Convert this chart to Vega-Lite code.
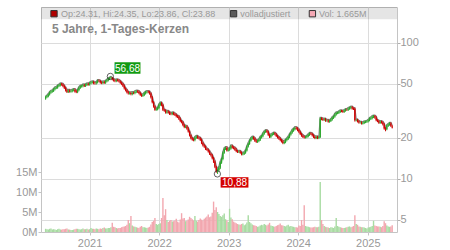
{
"$schema": "https://vega.github.io/schema/vega-lite/v6.json",
"width": 356, "height": 225,
"autosize": {"type": "none"},
"padding": {"left": 41, "top": 7, "right": 53, "bottom": 18},
"background": "white",
"config": {"view": {"stroke": "#c4c4c4"}, "font": "Liberation Sans"},
"datasets": {
"px": [
{"d":"2020-05-15","o":39.0,"h":40.8,"l":38.2,"c":40.0,"v":0.8},
{"d":"2020-05-22","o":40.0,"h":41.4,"l":39.2,"c":40.6,"v":0.7},
{"d":"2020-05-29","o":40.6,"h":42.6,"l":39.8,"c":41.8,"v":0.6},
{"d":"2020-06-05","o":41.8,"h":44.0,"l":41.0,"c":43.2,"v":0.8},
{"d":"2020-06-12","o":43.2,"h":44.8,"l":42.3,"c":43.9,"v":0.9},
{"d":"2020-06-19","o":43.9,"h":45.3,"l":43.0,"c":44.4,"v":0.6},
{"d":"2020-06-26","o":44.4,"h":46.5,"l":43.5,"c":45.6,"v":0.7},
{"d":"2020-07-03","o":45.6,"h":47.5,"l":44.7,"c":46.6,"v":0.6},
{"d":"2020-07-10","o":46.6,"h":47.9,"l":45.7,"c":47.0,"v":0.5},
{"d":"2020-07-17","o":47.0,"h":49.2,"l":46.0,"c":48.3,"v":0.7},
{"d":"2020-07-24","o":48.3,"h":49.8,"l":47.3,"c":48.8,"v":0.8},
{"d":"2020-07-31","o":48.8,"h":50.8,"l":47.8,"c":49.8,"v":0.6},
{"d":"2020-08-07","o":49.8,"h":50.8,"l":48.4,"c":49.4,"v":0.6},
{"d":"2020-08-14","o":49.4,"h":50.4,"l":47.2,"c":48.2,"v":0.7},
{"d":"2020-08-21","o":48.2,"h":49.2,"l":45.8,"c":46.7,"v":0.7},
{"d":"2020-08-28","o":46.7,"h":47.6,"l":43.9,"c":44.8,"v":0.8},
{"d":"2020-09-04","o":44.8,"h":45.7,"l":42.8,"c":43.7,"v":0.9},
{"d":"2020-09-11","o":43.7,"h":45.5,"l":42.8,"c":44.6,"v":0.6},
{"d":"2020-09-18","o":44.6,"h":45.5,"l":43.1,"c":44.0,"v":0.6},
{"d":"2020-09-25","o":44.0,"h":45.1,"l":43.1,"c":44.2,"v":0.5},
{"d":"2020-10-02","o":44.2,"h":45.8,"l":43.3,"c":44.9,"v":0.5},
{"d":"2020-10-09","o":44.9,"h":46.2,"l":44.0,"c":45.3,"v":0.6},
{"d":"2020-10-16","o":45.3,"h":46.2,"l":43.1,"c":44.0,"v":0.7},
{"d":"2020-10-23","o":44.0,"h":44.9,"l":42.7,"c":43.6,"v":0.8},
{"d":"2020-10-30","o":43.6,"h":45.9,"l":42.7,"c":45.0,"v":0.8},
{"d":"2020-11-06","o":45.0,"h":47.7,"l":44.1,"c":46.8,"v":0.7},
{"d":"2020-11-13","o":46.8,"h":48.9,"l":45.9,"c":47.9,"v":0.6},
{"d":"2020-11-20","o":47.9,"h":49.1,"l":46.9,"c":48.1,"v":0.7},
{"d":"2020-11-27","o":48.1,"h":49.9,"l":47.1,"c":48.9,"v":0.9},
{"d":"2020-12-04","o":48.9,"h":49.9,"l":47.4,"c":48.4,"v":0.7},
{"d":"2020-12-11","o":48.4,"h":50.2,"l":47.4,"c":49.2,"v":0.7},
{"d":"2020-12-18","o":49.2,"h":50.8,"l":48.2,"c":49.8,"v":0.8},
{"d":"2020-12-25","o":49.8,"h":50.8,"l":48.5,"c":49.5,"v":0.6},
{"d":"2021-01-01","o":49.5,"h":51.5,"l":48.5,"c":50.5,"v":0.7},
{"d":"2021-01-08","o":50.5,"h":52.2,"l":49.5,"c":51.2,"v":1.0},
{"d":"2021-01-15","o":51.2,"h":52.6,"l":50.2,"c":51.6,"v":0.8},
{"d":"2021-01-22","o":51.6,"h":52.6,"l":49.6,"c":50.6,"v":0.8},
{"d":"2021-01-29","o":50.6,"h":51.6,"l":49.4,"c":50.4,"v":0.7},
{"d":"2021-02-05","o":50.4,"h":52.3,"l":49.4,"c":51.3,"v":0.9},
{"d":"2021-02-12","o":51.3,"h":53.7,"l":50.3,"c":52.7,"v":0.8},
{"d":"2021-02-19","o":52.7,"h":53.8,"l":51.4,"c":52.4,"v":0.7},
{"d":"2021-02-26","o":52.4,"h":53.4,"l":50.2,"c":51.2,"v":0.9},
{"d":"2021-03-05","o":51.2,"h":52.2,"l":49.7,"c":50.7,"v":0.8},
{"d":"2021-03-12","o":50.7,"h":52.5,"l":49.7,"c":51.5,"v":1.0},
{"d":"2021-03-19","o":51.5,"h":52.5,"l":50.0,"c":51.0,"v":1.1},
{"d":"2021-03-26","o":51.0,"h":53.3,"l":50.0,"c":52.3,"v":0.9},
{"d":"2021-04-02","o":52.3,"h":54.2,"l":51.3,"c":53.1,"v":0.9},
{"d":"2021-04-09","o":53.1,"h":55.5,"l":52.1,"c":54.4,"v":1.0},
{"d":"2021-04-16","o":54.4,"h":56.2,"l":53.3,"c":55.2,"v":1.0},
{"d":"2021-04-23","o":55.2,"h":56.68,"l":54.1,"c":55.6,"v":1.2},
{"d":"2021-04-30","o":55.6,"h":56.0,"l":53.0,"c":54.0,"v":2.3},
{"d":"2021-05-07","o":54.0,"h":55.0,"l":52.0,"c":53.0,"v":1.3},
{"d":"2021-05-14","o":53.0,"h":54.0,"l":51.4,"c":52.4,"v":1.2},
{"d":"2021-05-21","o":52.4,"h":54.4,"l":51.4,"c":53.4,"v":1.0},
{"d":"2021-05-28","o":53.4,"h":54.4,"l":52.0,"c":53.0,"v":0.9},
{"d":"2021-06-04","o":53.0,"h":54.0,"l":51.2,"c":52.2,"v":1.0},
{"d":"2021-06-11","o":52.2,"h":53.2,"l":50.0,"c":51.0,"v":1.0},
{"d":"2021-06-18","o":51.0,"h":52.0,"l":48.9,"c":49.9,"v":1.2},
{"d":"2021-06-25","o":49.9,"h":50.9,"l":47.4,"c":48.4,"v":1.3},
{"d":"2021-07-02","o":48.4,"h":49.4,"l":45.4,"c":46.3,"v":1.4},
{"d":"2021-07-09","o":46.3,"h":47.2,"l":44.0,"c":44.9,"v":1.5},
{"d":"2021-07-16","o":44.9,"h":45.8,"l":42.5,"c":43.4,"v":1.8},
{"d":"2021-07-23","o":43.4,"h":44.3,"l":41.7,"c":42.6,"v":3.0},
{"d":"2021-07-30","o":42.6,"h":43.7,"l":41.7,"c":42.8,"v":2.2},
{"d":"2021-08-06","o":42.8,"h":43.7,"l":41.2,"c":42.1,"v":4.0},
{"d":"2021-08-13","o":42.1,"h":43.8,"l":41.2,"c":42.9,"v":1.6},
{"d":"2021-08-20","o":42.9,"h":43.8,"l":41.9,"c":42.8,"v":1.4},
{"d":"2021-08-27","o":42.8,"h":44.5,"l":41.9,"c":43.6,"v":1.3},
{"d":"2021-09-03","o":43.6,"h":44.9,"l":42.7,"c":44.0,"v":1.2},
{"d":"2021-09-10","o":44.0,"h":44.9,"l":42.9,"c":43.8,"v":1.1},
{"d":"2021-09-17","o":43.8,"h":44.7,"l":41.9,"c":42.8,"v":1.0},
{"d":"2021-09-24","o":42.8,"h":43.7,"l":40.8,"c":41.6,"v":1.3},
{"d":"2021-10-01","o":41.6,"h":42.4,"l":40.1,"c":40.9,"v":1.5},
{"d":"2021-10-08","o":40.9,"h":42.2,"l":40.1,"c":41.4,"v":1.2},
{"d":"2021-10-15","o":41.4,"h":43.5,"l":40.6,"c":42.6,"v":1.2},
{"d":"2021-10-22","o":42.6,"h":44.3,"l":41.7,"c":43.4,"v":1.1},
{"d":"2021-10-29","o":43.4,"h":44.6,"l":42.5,"c":43.7,"v":1.0},
{"d":"2021-11-05","o":43.7,"h":44.6,"l":42.6,"c":43.5,"v":1.1},
{"d":"2021-11-12","o":43.5,"h":44.4,"l":41.6,"c":42.4,"v":1.3},
{"d":"2021-11-19","o":42.4,"h":43.2,"l":39.0,"c":39.8,"v":1.9},
{"d":"2021-11-26","o":39.8,"h":40.6,"l":35.9,"c":36.6,"v":2.5},
{"d":"2021-12-03","o":36.6,"h":37.3,"l":33.4,"c":34.1,"v":2.8},
{"d":"2021-12-10","o":34.1,"h":34.8,"l":31.7,"c":32.3,"v":3.5},
{"d":"2021-12-17","o":32.3,"h":33.2,"l":31.7,"c":32.5,"v":2.0},
{"d":"2021-12-24","o":32.5,"h":33.9,"l":31.9,"c":33.2,"v":1.8},
{"d":"2021-12-31","o":33.2,"h":35.7,"l":32.5,"c":35.0,"v":2.0},
{"d":"2022-01-07","o":35.0,"h":36.8,"l":34.3,"c":36.1,"v":2.2},
{"d":"2022-01-14","o":36.1,"h":36.8,"l":34.2,"c":34.9,"v":3.5},
{"d":"2022-01-21","o":34.9,"h":35.6,"l":31.6,"c":32.2,"v":8.5},
{"d":"2022-01-28","o":32.2,"h":32.8,"l":31.2,"c":31.8,"v":4.2},
{"d":"2022-02-04","o":31.8,"h":32.4,"l":30.2,"c":30.8,"v":5.7},
{"d":"2022-02-11","o":30.8,"h":31.9,"l":30.2,"c":31.3,"v":3.0},
{"d":"2022-02-18","o":31.3,"h":31.9,"l":30.2,"c":30.8,"v":2.5},
{"d":"2022-02-25","o":30.8,"h":31.4,"l":29.5,"c":30.1,"v":2.8},
{"d":"2022-03-04","o":30.1,"h":30.7,"l":29.4,"c":30.0,"v":3.0},
{"d":"2022-03-11","o":30.0,"h":31.1,"l":29.4,"c":30.5,"v":2.6},
{"d":"2022-03-18","o":30.5,"h":31.1,"l":29.4,"c":30.0,"v":2.7},
{"d":"2022-03-25","o":30.0,"h":30.6,"l":29.0,"c":29.6,"v":2.9},
{"d":"2022-04-01","o":29.6,"h":30.2,"l":28.3,"c":28.9,"v":3.3},
{"d":"2022-04-08","o":28.9,"h":29.5,"l":28.0,"c":28.6,"v":2.6},
{"d":"2022-04-15","o":28.6,"h":29.2,"l":27.1,"c":27.7,"v":2.4},
{"d":"2022-04-22","o":27.7,"h":28.3,"l":26.1,"c":26.6,"v":3.1},
{"d":"2022-04-29","o":26.6,"h":27.1,"l":25.6,"c":26.1,"v":4.7},
{"d":"2022-05-06","o":26.1,"h":26.6,"l":24.4,"c":24.9,"v":3.4},
{"d":"2022-05-13","o":24.9,"h":25.4,"l":23.6,"c":24.1,"v":3.5},
{"d":"2022-05-20","o":24.1,"h":24.8,"l":23.6,"c":24.3,"v":2.7},
{"d":"2022-05-27","o":24.3,"h":24.8,"l":23.0,"c":23.5,"v":2.8},
{"d":"2022-06-03","o":23.5,"h":24.0,"l":21.9,"c":22.3,"v":3.1},
{"d":"2022-06-10","o":22.3,"h":22.7,"l":20.5,"c":20.9,"v":3.8},
{"d":"2022-06-17","o":20.9,"h":21.3,"l":19.5,"c":19.9,"v":3.5},
{"d":"2022-06-24","o":19.9,"h":20.3,"l":19.1,"c":19.5,"v":3.2},
{"d":"2022-07-01","o":19.5,"h":19.9,"l":18.9,"c":19.3,"v":2.9},
{"d":"2022-07-08","o":19.3,"h":20.5,"l":18.9,"c":20.1,"v":4.0},
{"d":"2022-07-15","o":20.1,"h":20.9,"l":19.7,"c":20.5,"v":2.8},
{"d":"2022-07-22","o":20.5,"h":20.9,"l":19.7,"c":20.1,"v":2.6},
{"d":"2022-07-29","o":20.1,"h":20.5,"l":19.5,"c":19.9,"v":3.0},
{"d":"2022-08-05","o":19.9,"h":20.3,"l":19.0,"c":19.4,"v":3.4},
{"d":"2022-08-12","o":19.4,"h":19.8,"l":18.0,"c":18.4,"v":3.1},
{"d":"2022-08-19","o":18.4,"h":18.8,"l":17.3,"c":17.7,"v":2.9},
{"d":"2022-08-26","o":17.7,"h":18.1,"l":16.9,"c":17.3,"v":3.3},
{"d":"2022-09-02","o":17.3,"h":17.6,"l":16.3,"c":16.6,"v":3.6},
{"d":"2022-09-09","o":16.6,"h":16.9,"l":16.1,"c":16.4,"v":3.9},
{"d":"2022-09-16","o":16.4,"h":16.7,"l":15.6,"c":15.9,"v":4.4},
{"d":"2022-09-23","o":15.9,"h":16.2,"l":15.0,"c":15.3,"v":3.7},
{"d":"2022-09-30","o":15.3,"h":15.6,"l":14.6,"c":14.9,"v":3.9},
{"d":"2022-10-07","o":14.9,"h":15.2,"l":13.9,"c":14.2,"v":4.8},
{"d":"2022-10-14","o":14.2,"h":14.5,"l":13.1,"c":13.4,"v":7.6},
{"d":"2022-10-21","o":13.4,"h":13.7,"l":12.0,"c":12.3,"v":5.5},
{"d":"2022-10-28","o":12.3,"h":12.5,"l":11.1,"c":11.4,"v":6.2},
{"d":"2022-11-04","o":11.4,"h":11.9,"l":10.88,"c":11.6,"v":5.0},
{"d":"2022-11-11","o":11.6,"h":12.4,"l":11.3,"c":12.1,"v":4.5},
{"d":"2022-11-18","o":12.1,"h":13.5,"l":11.8,"c":13.2,"v":4.0},
{"d":"2022-11-25","o":13.2,"h":14.3,"l":12.9,"c":14.0,"v":3.8},
{"d":"2022-12-02","o":14.0,"h":15.9,"l":13.7,"c":15.6,"v":4.2},
{"d":"2022-12-09","o":15.6,"h":17.0,"l":15.3,"c":16.6,"v":4.6},
{"d":"2022-12-16","o":16.6,"h":17.3,"l":16.3,"c":16.9,"v":3.2},
{"d":"2022-12-23","o":16.9,"h":17.3,"l":15.9,"c":16.2,"v":2.9},
{"d":"2022-12-30","o":16.2,"h":16.8,"l":15.9,"c":16.4,"v":2.5},
{"d":"2023-01-06","o":16.4,"h":17.1,"l":16.1,"c":16.7,"v":5.8},
{"d":"2023-01-13","o":16.7,"h":17.8,"l":16.4,"c":17.4,"v":3.6},
{"d":"2023-01-20","o":17.4,"h":17.8,"l":16.7,"c":17.0,"v":3.2},
{"d":"2023-01-27","o":17.0,"h":17.4,"l":16.5,"c":16.8,"v":2.6},
{"d":"2023-02-03","o":16.8,"h":17.2,"l":16.1,"c":16.4,"v":2.4},
{"d":"2023-02-10","o":16.4,"h":16.8,"l":15.7,"c":16.0,"v":2.2},
{"d":"2023-02-17","o":16.0,"h":16.3,"l":15.5,"c":15.8,"v":2.0},
{"d":"2023-02-24","o":15.8,"h":16.2,"l":15.5,"c":15.9,"v":1.9},
{"d":"2023-03-03","o":15.9,"h":16.2,"l":15.3,"c":15.6,"v":1.8},
{"d":"2023-03-10","o":15.6,"h":15.9,"l":14.9,"c":15.2,"v":2.0},
{"d":"2023-03-17","o":15.2,"h":15.6,"l":14.9,"c":15.3,"v":2.1},
{"d":"2023-03-24","o":15.3,"h":15.9,"l":15.0,"c":15.6,"v":1.7},
{"d":"2023-03-31","o":15.6,"h":16.5,"l":15.3,"c":16.2,"v":1.9},
{"d":"2023-04-07","o":16.2,"h":17.6,"l":15.9,"c":17.3,"v":2.4},
{"d":"2023-04-14","o":17.3,"h":18.5,"l":17.0,"c":18.1,"v":4.2},
{"d":"2023-04-21","o":18.1,"h":19.5,"l":17.8,"c":19.1,"v":2.5},
{"d":"2023-04-28","o":19.1,"h":20.2,"l":18.8,"c":19.8,"v":2.2},
{"d":"2023-05-05","o":19.8,"h":20.6,"l":19.4,"c":20.2,"v":1.9},
{"d":"2023-05-12","o":20.2,"h":20.6,"l":19.4,"c":19.8,"v":1.7},
{"d":"2023-05-19","o":19.8,"h":20.2,"l":18.7,"c":19.1,"v":1.6},
{"d":"2023-05-26","o":19.1,"h":19.5,"l":18.4,"c":18.8,"v":1.5},
{"d":"2023-06-02","o":18.8,"h":19.4,"l":18.4,"c":19.0,"v":1.3},
{"d":"2023-06-09","o":19.0,"h":19.8,"l":18.6,"c":19.4,"v":1.4},
{"d":"2023-06-16","o":19.4,"h":20.6,"l":19.0,"c":20.2,"v":1.6},
{"d":"2023-06-23","o":20.2,"h":21.0,"l":19.8,"c":20.6,"v":1.8},
{"d":"2023-06-30","o":20.6,"h":21.9,"l":20.2,"c":21.5,"v":1.7},
{"d":"2023-07-07","o":21.5,"h":22.6,"l":21.1,"c":22.2,"v":2.0},
{"d":"2023-07-14","o":22.2,"h":23.0,"l":21.8,"c":22.6,"v":1.8},
{"d":"2023-07-21","o":22.6,"h":23.0,"l":21.8,"c":22.2,"v":1.6},
{"d":"2023-07-28","o":22.2,"h":22.6,"l":20.7,"c":21.1,"v":1.9},
{"d":"2023-08-04","o":21.1,"h":21.5,"l":20.0,"c":20.4,"v":2.3},
{"d":"2023-08-11","o":20.4,"h":21.4,"l":20.0,"c":21.0,"v":1.6},
{"d":"2023-08-18","o":21.0,"h":21.8,"l":20.6,"c":21.4,"v":1.5},
{"d":"2023-08-25","o":21.4,"h":22.1,"l":21.0,"c":21.7,"v":1.4},
{"d":"2023-09-01","o":21.7,"h":22.1,"l":20.9,"c":21.3,"v":1.3},
{"d":"2023-09-08","o":21.3,"h":21.7,"l":20.3,"c":20.7,"v":1.5},
{"d":"2023-09-15","o":20.7,"h":21.1,"l":19.8,"c":20.2,"v":1.7},
{"d":"2023-09-22","o":20.2,"h":20.6,"l":19.4,"c":19.8,"v":1.8},
{"d":"2023-09-29","o":19.8,"h":20.2,"l":18.9,"c":19.3,"v":2.1},
{"d":"2023-10-06","o":19.3,"h":19.7,"l":18.5,"c":18.9,"v":1.7},
{"d":"2023-10-13","o":18.9,"h":19.3,"l":18.0,"c":18.4,"v":1.6},
{"d":"2023-10-20","o":18.4,"h":19.1,"l":18.0,"c":18.7,"v":1.5},
{"d":"2023-10-27","o":18.7,"h":19.7,"l":18.3,"c":19.3,"v":1.4},
{"d":"2023-11-03","o":19.3,"h":20.1,"l":18.9,"c":19.7,"v":1.6},
{"d":"2023-11-10","o":19.7,"h":20.7,"l":19.3,"c":20.3,"v":1.8},
{"d":"2023-11-17","o":20.3,"h":21.6,"l":19.9,"c":21.2,"v":1.4},
{"d":"2023-11-24","o":21.2,"h":22.3,"l":20.8,"c":21.9,"v":1.5},
{"d":"2023-12-01","o":21.9,"h":23.2,"l":21.5,"c":22.7,"v":1.4},
{"d":"2023-12-08","o":22.7,"h":23.7,"l":22.2,"c":23.2,"v":1.3},
{"d":"2023-12-15","o":23.2,"h":24.2,"l":22.7,"c":23.7,"v":1.2},
{"d":"2023-12-22","o":23.7,"h":24.2,"l":23.0,"c":23.5,"v":1.2},
{"d":"2023-12-29","o":23.5,"h":24.0,"l":22.4,"c":22.9,"v":1.1},
{"d":"2024-01-05","o":22.9,"h":23.4,"l":21.8,"c":22.2,"v":1.6},
{"d":"2024-01-12","o":22.2,"h":22.6,"l":21.0,"c":21.4,"v":1.5},
{"d":"2024-01-19","o":21.4,"h":21.8,"l":20.4,"c":20.8,"v":3.0},
{"d":"2024-01-26","o":20.8,"h":21.2,"l":20.0,"c":20.4,"v":1.8},
{"d":"2024-02-02","o":20.4,"h":20.8,"l":19.8,"c":20.2,"v":6.7},
{"d":"2024-02-09","o":20.2,"h":20.7,"l":19.8,"c":20.3,"v":1.5},
{"d":"2024-02-16","o":20.3,"h":21.0,"l":19.9,"c":20.6,"v":1.4},
{"d":"2024-02-23","o":20.6,"h":21.5,"l":20.2,"c":21.1,"v":1.3},
{"d":"2024-03-01","o":21.1,"h":22.0,"l":20.7,"c":21.6,"v":1.2},
{"d":"2024-03-08","o":21.6,"h":22.0,"l":21.0,"c":21.4,"v":1.1},
{"d":"2024-03-15","o":21.4,"h":21.8,"l":20.5,"c":20.9,"v":1.1},
{"d":"2024-03-22","o":20.9,"h":21.3,"l":20.0,"c":20.4,"v":1.2},
{"d":"2024-03-29","o":20.4,"h":20.8,"l":19.6,"c":20.0,"v":1.3},
{"d":"2024-04-05","o":20.0,"h":20.7,"l":19.6,"c":20.3,"v":1.2},
{"d":"2024-04-12","o":20.3,"h":20.7,"l":19.6,"c":20.0,"v":1.2},
{"d":"2024-04-19","o":20.0,"h":20.6,"l":19.6,"c":20.2,"v":1.3},
{"d":"2024-04-26","o":20.2,"h":28.4,"l":20.0,"c":27.8,"v":12.5},
{"d":"2024-05-03","o":27.8,"h":28.4,"l":27.0,"c":27.6,"v":3.0},
{"d":"2024-05-10","o":27.6,"h":28.1,"l":26.7,"c":27.2,"v":2.0},
{"d":"2024-05-17","o":27.2,"h":28.0,"l":26.7,"c":27.5,"v":1.5},
{"d":"2024-05-24","o":27.5,"h":28.0,"l":26.3,"c":26.8,"v":1.3},
{"d":"2024-05-31","o":26.8,"h":27.4,"l":26.3,"c":26.9,"v":1.2},
{"d":"2024-06-07","o":26.9,"h":27.4,"l":25.9,"c":26.4,"v":1.1},
{"d":"2024-06-14","o":26.4,"h":27.2,"l":25.9,"c":26.7,"v":1.0},
{"d":"2024-06-21","o":26.7,"h":27.8,"l":26.2,"c":27.3,"v":1.2},
{"d":"2024-06-28","o":27.3,"h":28.7,"l":26.8,"c":28.1,"v":1.1},
{"d":"2024-07-05","o":28.1,"h":29.3,"l":27.6,"c":28.7,"v":1.0},
{"d":"2024-07-12","o":28.7,"h":30.4,"l":28.2,"c":29.8,"v":1.4},
{"d":"2024-07-19","o":29.8,"h":31.1,"l":29.2,"c":30.5,"v":3.5},
{"d":"2024-07-26","o":30.5,"h":31.2,"l":29.9,"c":30.6,"v":1.5},
{"d":"2024-08-02","o":30.6,"h":31.7,"l":30.0,"c":31.1,"v":1.3},
{"d":"2024-08-09","o":31.1,"h":32.2,"l":30.5,"c":31.6,"v":1.2},
{"d":"2024-08-16","o":31.6,"h":32.2,"l":30.9,"c":31.5,"v":1.1},
{"d":"2024-08-23","o":31.5,"h":32.1,"l":30.6,"c":31.2,"v":1.0},
{"d":"2024-08-30","o":31.2,"h":32.4,"l":30.6,"c":31.8,"v":1.0},
{"d":"2024-09-06","o":31.8,"h":32.9,"l":31.2,"c":32.3,"v":1.1},
{"d":"2024-09-13","o":32.3,"h":32.9,"l":31.6,"c":32.2,"v":1.2},
{"d":"2024-09-20","o":32.2,"h":33.5,"l":31.6,"c":32.8,"v":1.3},
{"d":"2024-09-27","o":32.8,"h":33.9,"l":32.2,"c":33.2,"v":1.4},
{"d":"2024-10-04","o":33.2,"h":34.3,"l":32.5,"c":33.6,"v":1.2},
{"d":"2024-10-11","o":33.6,"h":34.3,"l":32.3,"c":33.0,"v":1.3},
{"d":"2024-10-18","o":33.0,"h":33.6,"l":32.1,"c":32.8,"v":1.5},
{"d":"2024-10-25","o":32.8,"h":33.4,"l":26.4,"c":27.0,"v":4.2},
{"d":"2024-11-01","o":27.0,"h":27.6,"l":26.5,"c":27.1,"v":2.0},
{"d":"2024-11-08","o":27.1,"h":27.6,"l":26.0,"c":26.5,"v":1.8},
{"d":"2024-11-15","o":26.5,"h":27.0,"l":25.5,"c":26.0,"v":1.4},
{"d":"2024-11-22","o":26.0,"h":26.5,"l":25.5,"c":26.0,"v":1.3},
{"d":"2024-11-29","o":26.0,"h":26.5,"l":25.1,"c":25.6,"v":1.2},
{"d":"2024-12-06","o":25.6,"h":26.3,"l":25.1,"c":25.8,"v":1.2},
{"d":"2024-12-13","o":25.8,"h":26.7,"l":25.3,"c":26.2,"v":1.1},
{"d":"2024-12-20","o":26.2,"h":26.8,"l":25.7,"c":26.3,"v":1.0},
{"d":"2024-12-27","o":26.3,"h":27.0,"l":25.8,"c":26.5,"v":0.9},
{"d":"2025-01-03","o":26.5,"h":27.5,"l":26.0,"c":27.0,"v":1.1},
{"d":"2025-01-10","o":27.0,"h":28.3,"l":26.5,"c":27.7,"v":1.2},
{"d":"2025-01-17","o":27.7,"h":28.6,"l":27.1,"c":28.0,"v":1.3},
{"d":"2025-01-24","o":28.0,"h":29.2,"l":27.4,"c":28.6,"v":1.5},
{"d":"2025-01-31","o":28.6,"h":29.5,"l":28.0,"c":28.9,"v":2.8},
{"d":"2025-02-07","o":28.9,"h":29.5,"l":27.7,"c":28.3,"v":1.6},
{"d":"2025-02-14","o":28.3,"h":28.9,"l":26.5,"c":27.0,"v":1.5},
{"d":"2025-02-21","o":27.0,"h":27.5,"l":26.1,"c":26.6,"v":1.4},
{"d":"2025-02-28","o":26.6,"h":27.1,"l":25.4,"c":25.9,"v":1.4},
{"d":"2025-03-07","o":25.9,"h":26.8,"l":25.4,"c":26.3,"v":1.3},
{"d":"2025-03-14","o":26.3,"h":26.8,"l":25.5,"c":26.0,"v":1.2},
{"d":"2025-03-21","o":26.0,"h":26.5,"l":24.7,"c":25.2,"v":1.5},
{"d":"2025-03-28","o":25.2,"h":25.7,"l":23.0,"c":23.5,"v":2.7},
{"d":"2025-04-04","o":23.5,"h":24.0,"l":22.4,"c":23.2,"v":2.2},
{"d":"2025-04-11","o":23.2,"h":25.1,"l":22.8,"c":24.6,"v":1.6},
{"d":"2025-04-18","o":24.6,"h":25.6,"l":24.1,"c":25.1,"v":1.4},
{"d":"2025-04-25","o":25.1,"h":26.1,"l":24.6,"c":25.6,"v":1.3},
{"d":"2025-05-02","o":25.6,"h":26.1,"l":24.1,"c":24.6,"v":1.4},
{"d":"2025-05-09","o":24.31,"h":24.9,"l":23.5,"c":23.88,"v":1.665}
],
"band": [{"d":"2020-01-01","d2":"2026-01-01","p":148.9,"p2":300}],
"ann": [{"d":"2021-04-20","p":56.68},{"d":"2022-11-03","p":10.88}],
"boxes": [{"d":"2021-05-12","d2":"2021-09-25","p":59.4,"p2":72.1,"k":"hi"},{"d":"2022-11-20","d2":"2023-04-15","p":8.63,"p2":10.29,"k":"lo"}],
"boxtext": [{"d":"2021-07-19","p":61.6,"t":"56,68"},{"d":"2023-02-01","p":8.88,"t":"10,88"}],
"sq": [{"d":"2020-06-28","p":163.9,"k":"ohlc"},{"d":"2023-01-27","p":163.9,"k":"adj"},{"d":"2024-03-16","p":163.9,"k":"vol"}],
"leg": [{"d":"2020-08-04","p":156,"t":"Op:24.31, Hi:24.35, Lo:23.86, Cl:23.88"},{"d":"2023-03-03","p":156,"t":"volladjustiert"},{"d":"2024-04-20","p":156,"t":"Vol: 1.665M"}],
"ttl": [{"d":"2020-06-17","p":117.5,"t":"5 Jahre, 1-Tages-Kerzen"}]
},
"encoding": {
"x": {"field": "d", "type": "temporal",
 "scale": {"domain": [{"year":2020,"month":5,"date":17},{"year":2025,"month":5,"date":8}], "nice": false},
 "axis": {"title": null, "format": "%Y", "tickCount": {"interval": "year", "step": 1}, "grid": true, "gridColor": "#dcdcdc", "domain": false, "tickSize": 3, "tickColor": "#c4c4c4", "labelColor": "#999999", "labelFontSize": 11, "labelPadding": 2, "labelFont": "Liberation Sans"}}
},
"layer": [
{
 "data": {"name": "band"},
 "mark": {"type": "rect", "color": "black", "opacity": 0.1, "clip": true},
 "encoding": {
  "x2": {"field": "d2"},
  "y": {"field": "p", "type": "quantitative", "scale": {"type": "log", "domain": [4.07, 183.6], "nice": false},
   "axis": {"orient": "right", "title": null, "values": [5, 10, 20, 50, 100], "grid": true, "gridColor": "#dcdcdc", "domain": false, "tickSize": 3, "tickColor": "#b0b0b0", "labelColor": "#999999", "labelFontSize": 11, "labelPadding": 0, "labelFont": "Liberation Sans"}},
  "y2": {"field": "p2"}
 }
},
{
 "data": {"name": "px"},
 "mark": {"type": "bar", "size": 1.4, "clip": true},
 "encoding": {
  "y": {"field": "v", "type": "quantitative", "scale": {"domain": [0, 56.25], "nice": false},
   "axis": {"orient": "left", "title": null, "values": [0, 5, 10, 15], "labelExpr": "datum.value + 'M'", "grid": false, "domain": false, "tickSize": 3, "tickColor": "#c4c4c4", "labelColor": "#999999", "labelFontSize": 11, "labelPadding": 1, "labelFont": "Liberation Sans"}},
  "color": {"condition": {"test": "datum.c >= datum.o", "value": "#a8dba2"}, "value": "#f2a7af"}
 }
},
{
 "data": {"name": "px"},
 "mark": {"type": "line", "color": "#8a8a8a", "strokeWidth": 1.2, "clip": true},
 "encoding": {"y": {"field": "h", "type": "quantitative", "scale": {"type": "log", "domain": [4.07, 183.6], "nice": false}, "axis": null}}
},
{
 "data": {"name": "px"},
 "mark": {"type": "rule", "strokeWidth": 1, "clip": true},
 "encoding": {
  "y": {"field": "l", "type": "quantitative", "scale": {"type": "log", "domain": [4.07, 183.6], "nice": false}, "axis": null},
  "y2": {"field": "h"},
  "color": {"condition": {"test": "datum.c >= datum.o", "value": "#2aa52a"}, "value": "#cc0000"}
 }
},
{
 "data": {"name": "px"},
 "mark": {"type": "bar", "size": 1.3, "clip": true},
 "encoding": {
  "y": {"field": "o", "type": "quantitative", "scale": {"type": "log", "domain": [4.07, 183.6], "nice": false}, "axis": null},
  "y2": {"field": "c"},
  "color": {"condition": {"test": "datum.c >= datum.o", "value": "#2aa52a"}, "value": "#cc0000"}
 }
},
{
 "data": {"name": "ann"},
 "mark": {"type": "point", "shape": "circle", "filled": false, "stroke": "#222222", "strokeWidth": 1, "size": 40},
 "encoding": {"y": {"field": "p", "type": "quantitative", "scale": {"type": "log", "domain": [4.07, 183.6], "nice": false}, "axis": null}}
},
{
 "data": {"name": "boxes"},
 "mark": {"type": "rect"},
 "encoding": {
  "x2": {"field": "d2"},
  "y": {"field": "p", "type": "quantitative", "scale": {"type": "log", "domain": [4.07, 183.6], "nice": false}, "axis": null},
  "y2": {"field": "p2"},
  "color": {"field": "k", "type": "nominal", "scale": {"domain": ["hi", "lo"], "range": ["#129a12", "#d40000"]}, "legend": null}
 }
},
{
 "data": {"name": "boxtext"},
 "mark": {"type": "text", "color": "white", "fontSize": 10, "align": "center", "baseline": "alphabetic", "font": "Liberation Sans"},
 "encoding": {"y": {"field": "p", "type": "quantitative", "scale": {"type": "log", "domain": [4.07, 183.6], "nice": false}, "axis": null}, "text": {"field": "t"}}
},
{
 "data": {"name": "sq"},
 "mark": {"type": "point", "shape": "square", "filled": true, "stroke": "#333333", "strokeWidth": 1, "size": 40, "opacity": 1},
 "encoding": {
  "y": {"field": "p", "type": "quantitative", "scale": {"type": "log", "domain": [4.07, 183.6], "nice": false}, "axis": null},
  "fill": {"field": "k", "type": "nominal", "scale": {"domain": ["ohlc", "adj", "vol"], "range": ["#b00000", "#5a5a5a", "#f4a8b4"]}, "legend": null}
 }
},
{
 "data": {"name": "leg"},
 "mark": {"type": "text", "color": "#999999", "fontSize": 9, "align": "left", "baseline": "alphabetic", "font": "Liberation Sans"},
 "encoding": {"y": {"field": "p", "type": "quantitative", "scale": {"type": "log", "domain": [4.07, 183.6], "nice": false}, "axis": null}, "text": {"field": "t"}}
},
{
 "data": {"name": "ttl"},
 "mark": {"type": "text", "color": "#888888", "fontSize": 12, "fontWeight": "bold", "align": "left", "baseline": "alphabetic", "font": "Liberation Sans"},
 "encoding": {"y": {"field": "p", "type": "quantitative", "scale": {"type": "log", "domain": [4.07, 183.6], "nice": false}, "axis": null}, "text": {"field": "t"}}
}
],
"resolve": {"scale": {"y": "independent"}, "axis": {"y": "independent"}}
}
